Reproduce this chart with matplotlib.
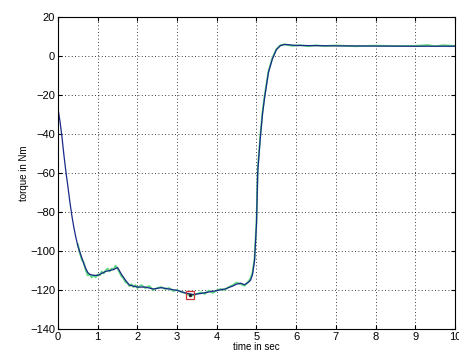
import matplotlib
matplotlib.use("Agg")
import matplotlib.pyplot as plt

# Blue (model) trace
t_blue = [0, 0.05, 0.1, 0.15, 0.2, 0.25, 0.3, 0.35, 0.4, 0.45, 0.5, 0.55, 0.6, 0.65, 0.7,
          0.75, 0.8, 0.9, 1.0, 1.1, 1.2, 1.3, 1.4, 1.5, 1.6, 1.7, 1.8, 1.9, 2.0, 2.2, 2.4,
          2.6, 2.8, 3.0, 3.2, 3.4, 3.6, 3.8, 4.0, 4.2, 4.4, 4.5, 4.6, 4.7, 4.8, 4.85, 4.9,
          4.95, 5.0, 5.03, 5.05, 5.1, 5.15, 5.2, 5.3, 5.4, 5.5, 5.6, 5.7, 5.8, 6.0, 7.0,
          8.0, 9.0, 10.0]
y_blue = [-27, -33.5, -41.5, -51, -59.5, -67, -75, -82, -88, -93, -97.5, -100.5, -103.5,
          -106.5, -109, -111, -112, -112.5, -112.5, -111.5, -110.5, -110, -109.5, -108.5,
          -112, -115, -117.5, -118, -118.5, -118.5, -119.5, -118.8, -119.5, -120.2,
          -121.5, -122.3, -121.8, -121, -120.3, -119.5, -118, -117, -116.5, -117.3, -116,
          -115, -112, -105, -86, -60, -54, -41, -30, -22, -8.5, -1.5, 3.2, 5.3, 5.9, 5.8,
          5.4, 5.2, 5.1, 5.0, 5.0]

# Green (measured) trace
t_green = [0.5, 0.55, 0.6, 0.65, 0.7, 0.75, 0.8, 0.85, 0.9, 0.95, 1.0, 1.05, 1.1, 1.15,
           1.2, 1.25, 1.3, 1.35, 1.4, 1.45, 1.5, 1.55, 1.6, 1.65, 1.7, 1.75, 1.8, 1.85,
           1.9, 1.95, 2.0, 2.1, 2.2, 2.3, 2.4, 2.5, 2.6, 2.7, 2.8, 2.9, 3.0, 3.1, 3.2,
           3.3, 3.4, 3.5, 3.6, 3.7, 3.8, 3.9, 4.0, 4.1, 4.2, 4.3, 4.4, 4.5, 4.6, 4.7,
           4.8, 4.85, 4.9, 4.95, 5.0, 5.03, 5.05, 5.1, 5.15, 5.2, 5.3, 5.4, 5.5, 5.6,
           5.7, 5.9, 6.1, 6.3, 6.5, 6.7, 7.0, 7.5, 8.0, 8.5, 9.0, 9.3,
           9.5, 9.7, 10.0]
y_green = [-96.5, -101, -104.5, -106, -110, -112.5, -112, -113.5, -112.5, -113.5, -112,
           -112.5, -110.5, -111.5, -110, -109, -110.5, -109, -109.5, -107.5, -109, -111,
           -113, -114, -116, -116.5, -118, -117, -118.5, -117.5, -119, -117.5, -119, -118,
           -120, -119, -118.5, -119.5, -119, -120.5, -120, -121, -121.5, -122.5, -122.8,
           -122, -121.2, -122, -120.3, -121.5, -120.2, -119.5, -120, -118.5, -117.5,
           -116.2, -117, -117.8, -115.5, -114, -111, -104, -85, -59, -53, -40, -29, -21,
           -8, -1, 3.5, 5.5,
           6.0, 5.2, 5.6, 5.0, 5.5, 5.1,
           5.4, 5.0, 5.3, 5.1, 5.2, 5.6, 5.0, 5.5, 5.2]

marker_t = [3.33]
marker_y = [-122.5]

x_ticks = [0, 1, 2, 3, 4, 5, 6, 7, 8, 9, 10]
y_ticks = [-140, -120, -100, -80, -60, -40, -20, 0, 20]

plt.rcParams['font.family'] = ['Liberation Sans', 'DejaVu Sans']

fig = plt.figure(figsize=(4.6, 3.61), dpi=100)
ax = fig.add_axes([58/460, 1 - 329/361, (455-58)/460, (329-17)/361])

ax.plot(t_green, y_green, color='#5ad67c', lw=1.3)
ax.plot(t_blue, y_blue, color='#1a2a88', lw=0.9)
ax.plot(marker_t, marker_y, marker='s', markersize=6, markerfacecolor='none',
        markeredgecolor='#cc3333', markeredgewidth=0.9, linestyle='none')
ax.plot(marker_t, marker_y, marker='o', markersize=1.5, color='#222222', linestyle='none')

ax.set_xlim(0, 10)
ax.set_ylim(-140, 20)
ax.set_xticks(x_ticks)
ax.set_yticks(y_ticks)
ax.tick_params(direction='in', top=True, right=True, length=3, labelsize=8, pad=2)
ax.grid(True, linestyle=(0, (1, 3)), color='black', linewidth=0.6)
for s in ax.spines.values():
    s.set_linewidth(0.8)

ax.set_xlabel('time in sec', fontsize=7, labelpad=0)
ax.set_ylabel('torque in Nm', fontsize=7, labelpad=1)

fig.savefig('out.png', dpi=100)
